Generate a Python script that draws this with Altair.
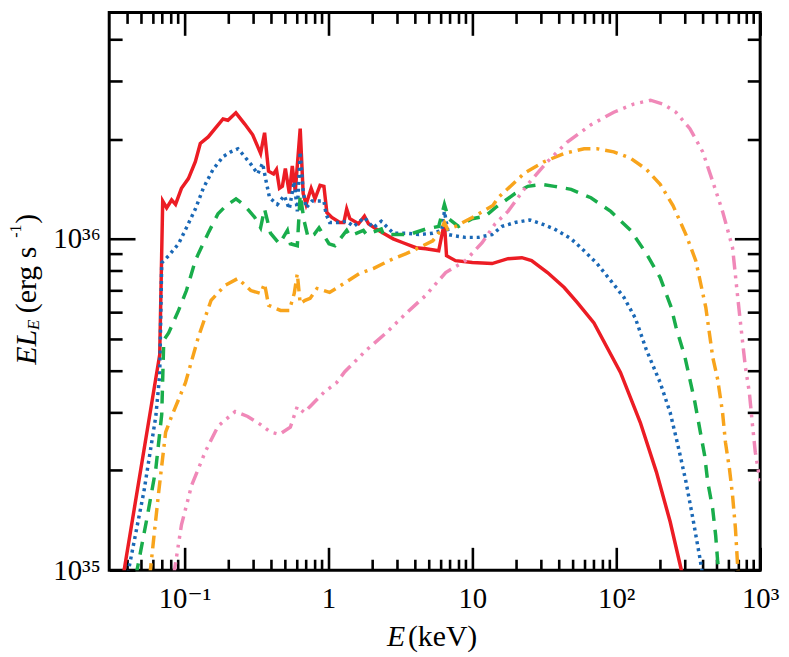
import altair as alt
import pandas as pd

# ---------------- data (E in keV, L in units of 1e36 erg/s) ----------------
red_E = [0.0375, 0.0673, 0.0706, 0.0752, 0.0814, 0.0867, 0.0953, 0.1065, 0.119, 0.1288,
         0.1462, 0.163, 0.1854, 0.2005, 0.2276, 0.2624, 0.2978, 0.338, 0.3603, 0.3838,
         0.4159, 0.4357, 0.4571, 0.479, 0.5023, 0.5354, 0.5613, 0.5888, 0.637, 0.668,
         0.700, 0.759, 0.807, 0.875, 0.931, 0.976, 1.057, 1.20, 1.28, 1.34,
         1.41, 1.62, 1.78, 1.90, 2.15, 2.41, 2.82, 3.30, 4.06, 4.75,
         5.84, 6.40, 6.62, 7.64, 10.0, 13.7, 17.7, 22.1, 25.8, 33.3,
         43.5, 53.5, 70.0, 107, 147, 190, 237, 282, 291]
red_L36 = [0.096, 0.447, 1.30, 1.24, 1.31, 1.27, 1.42, 1.52, 1.71, 1.94,
           2.03, 2.15, 2.30, 2.28, 2.40, 2.22, 2.06, 1.81, 2.09, 1.60,
           1.57, 1.62, 1.42, 1.44, 1.63, 1.37, 1.66, 1.39, 2.15, 1.37,
           1.27, 1.42, 1.32, 1.45, 1.44, 1.20, 1.16, 1.12, 1.12, 1.23,
           1.15, 1.11, 1.17, 1.11, 1.07, 1.04, 1.00, 0.973, 0.940, 0.933,
           0.920, 1.12, 0.889, 0.859, 0.848, 0.842, 0.871, 0.877, 0.859, 0.791,
           0.713, 0.643, 0.557, 0.395, 0.279, 0.198, 0.140, 0.101, 0.096]

blue_E = [0.0405, 0.0523, 0.0632, 0.0673, 0.0695, 0.0776, 0.0910, 0.1032, 0.119, 0.135,
          0.158, 0.1854, 0.210, 0.235, 0.262, 0.289, 0.323, 0.349, 0.366, 0.390,
          0.442, 0.494, 0.535, 0.579, 0.608, 0.637, 0.668, 0.700, 0.770, 0.861,
          0.931, 0.962, 1.02, 1.18, 1.34, 1.50, 1.78, 2.05, 2.33, 2.82,
          3.47, 4.26, 5.31, 6.12, 6.40, 6.84, 7.64, 8.95, 11.0, 13.7,
          16.1, 19.8, 25.1, 30.3, 37.2, 48.6, 59.8, 73.5, 91.6, 113,
          136, 162, 202, 237, 269, 305, 341, 381, 399]
blue_L36 = [0.098, 0.173, 0.291, 0.389, 0.847, 0.889, 0.966, 1.08, 1.23, 1.42,
            1.62, 1.77, 1.83, 1.87, 1.77, 1.68, 1.57, 1.69, 1.52, 1.33,
            1.27, 1.35, 1.23, 1.49, 1.21, 1.83, 1.39, 1.24, 1.30, 1.30,
            1.30, 1.19, 1.12, 1.12, 1.13, 1.09, 1.16, 1.08, 1.13, 1.04,
            1.04, 1.03, 1.04, 1.06, 1.21, 1.03, 1.02, 1.01, 1.01, 1.03,
            1.09, 1.12, 1.14, 1.11, 1.07, 1.00, 0.920, 0.842, 0.748, 0.666,
            0.575, 0.462, 0.368, 0.299, 0.237, 0.185, 0.143, 0.109, 0.096]

green_E = [0.0460, 0.0548, 0.0632, 0.0695, 0.0718, 0.0776, 0.0910, 0.1032, 0.119, 0.125,
           0.146, 0.171, 0.195, 0.228, 0.262, 0.308, 0.338, 0.360, 0.396, 0.457,
           0.519, 0.544, 0.608, 0.637, 0.679, 0.723, 0.795, 0.861, 1.01, 1.11,
           1.34, 1.41, 1.75, 1.84, 2.33, 2.41, 2.96, 3.63, 4.75, 5.84,
           6.40, 6.84, 8.01, 10.0, 12.3, 14.4, 19.8, 24.3, 30.3, 37.2,
           48.6, 66.7, 91.6, 126, 162, 202, 241, 260, 300, 325,
           352, 381, 412, 432, 468, 491, 507, 523]
green_L36 = [0.096, 0.143, 0.202, 0.295, 0.495, 0.520, 0.608, 0.698, 0.859, 0.902,
             1.04, 1.19, 1.26, 1.32, 1.26, 1.16, 1.08, 1.23, 1.04, 0.966,
             1.06, 0.966, 0.953, 1.36, 1.13, 1.01, 1.03, 1.08, 0.966, 0.953,
             1.06, 1.02, 1.06, 1.03, 1.07, 1.03, 1.03, 1.03, 1.07, 1.09,
             1.27, 1.15, 1.09, 1.15, 1.17, 1.24, 1.37, 1.44, 1.46, 1.44,
             1.41, 1.33, 1.21, 1.06, 0.902, 0.764, 0.621, 0.542, 0.440, 0.376,
             0.321, 0.266, 0.221, 0.185, 0.153, 0.127, 0.106, 0.096]

orange_E = [0.0574, 0.0612, 0.0663, 0.0740, 0.0814, 0.1016, 0.125, 0.153, 0.191, 0.235,
            0.289, 0.338, 0.360, 0.384, 0.465, 0.535, 0.579, 0.608, 0.637, 0.689,
            0.746, 0.834, 1.02, 1.28, 1.64, 2.05, 2.41, 2.82, 3.47, 4.26,
            5.31, 6.03, 6.40, 6.73, 7.64, 10.0, 13.9, 15.1, 23.1, 31.7,
            43.5, 59.8, 73.5, 96.1, 126, 162, 202, 248, 305, 357,
            419, 468, 507, 548, 574, 612, 643, 673, 695, 706]
orange_L36 = [0.096, 0.125, 0.173, 0.261, 0.291, 0.368, 0.506, 0.652, 0.723, 0.759,
              0.698, 0.684, 0.733, 0.630, 0.608, 0.608, 0.684, 0.785, 0.638, 0.652,
              0.661, 0.708, 0.689, 0.733, 0.785, 0.813, 0.842, 0.871, 0.902, 0.940,
              0.986, 1.06, 1.12, 1.07, 1.09, 1.16, 1.26, 1.33, 1.58, 1.71,
              1.81, 1.87, 1.87, 1.83, 1.75, 1.62, 1.46, 1.26, 1.03, 0.859,
              0.621, 0.440, 0.376, 0.299, 0.243, 0.202, 0.168, 0.134, 0.106, 0.096]

pink_E = [0.0840, 0.0953, 0.112, 0.139, 0.171, 0.225, 0.275, 0.338, 0.396, 0.457,
          0.544, 0.608, 0.679, 0.746, 0.931, 1.14, 1.30, 1.84, 2.52, 3.47,
          4.75, 6.53, 8.95, 11.7, 14.4, 17.7, 24.3, 33.3, 45.7, 66.8,
          96.1, 132, 173, 212, 260, 325, 399, 468, 548, 643,
          690, 730, 789, 841, 881, 925, 1000]
pink_L36 = [0.096, 0.137, 0.180, 0.227, 0.272, 0.301, 0.291, 0.275, 0.261, 0.257,
            0.270, 0.312, 0.299, 0.312, 0.344, 0.368, 0.397, 0.462, 0.520, 0.596,
            0.675, 0.791, 0.859, 0.973, 1.11, 1.21, 1.46, 1.71, 1.96, 2.21,
            2.41, 2.55, 2.62, 2.55, 2.41, 2.15, 1.83, 1.49, 1.21, 0.940,
            0.700, 0.557, 0.411, 0.344, 0.279, 0.227, 0.185]

# axis tick values
x_major = [0.1, 1, 10, 100, 1000]
x_minor = [0.04, 0.05, 0.06, 0.07, 0.08, 0.09,
           0.2, 0.3, 0.4, 0.5, 0.6, 0.7, 0.8, 0.9,
           2, 3, 4, 5, 6, 7, 8, 9,
           20, 30, 40, 50, 60, 70, 80, 90,
           200, 300, 400, 500, 600, 700, 800, 900]
y_major = [1e35, 1e36]
y_minor = [2e35, 3e35, 4e35, 5e35, 6e35, 7e35, 8e35, 9e35, 2e36, 3e36, 4e36]

# ---------------- styles ----------------
SERIES = [
    ("red", red_E, red_L36, "#ec1c24", None),
    ("blue", blue_E, blue_L36, "#1a68b6", [3, 4]),
    ("green", green_E, green_L36, "#19ad4b", [13, 9]),
    ("orange", orange_E, orange_L36, "#f8a41c", [13, 6, 3, 6]),
    ("pink", pink_E, pink_L36, "#f088b8", [14, 6, 3, 6, 3, 6, 3, 6]),
]

FONT = "Liberation Serif, Times New Roman, DejaVu Serif, serif"
W, H = 656, 562
x_scale = alt.Scale(type="log", domain=[0.03, 1000], nice=False)
y_scale = alt.Scale(type="log", domain=[1e35, 4.82e36], nice=False)

frames = []
layers = []
for name, E, L36, color, dash in SERIES:
    d = pd.DataFrame({"E": E, "L36": L36})
    d["L"] = d["L36"] * 1e36
    d["series"] = name
    frames.append(d)
    mk = dict(color=color, strokeWidth=3.5, clip=True)
    if dash:
        mk["strokeDash"] = dash
    layers.append(
        alt.Chart(d).mark_line(**mk).encode(
            x=alt.X("E:Q", scale=x_scale, axis=None),
            y=alt.Y("L:Q", scale=y_scale, axis=None),
        )
    )
df_all = pd.concat(frames, ignore_index=True)

x_lab = ("datum.value < 0.5 ? '10⁻¹' : datum.value < 5 ? '1' : "
         "datum.value < 50 ? '10' : datum.value < 500 ? '10²' : '10³'")
y_lab = "datum.value < 5e35 ? '10³⁵' : '10³⁶'"


def make_axis(orient, values, size, expr=None, pad=0):
    kw = dict(orient=orient, values=values, tickSize=size, offset=-size,
              domain=False, grid=False, title=None, ticks=True,
              tickColor="black", tickWidth=2.6)
    if expr:
        kw.update(labels=True, labelExpr=expr, labelPadding=pad, labelFlush=False,
                  labelOverlap=False, labelFont=FONT, labelFontSize=29,
                  labelColor="black")
    else:
        kw.update(labels=False)
    return alt.Axis(**kw)


axis_specs = [
    (make_axis("bottom", x_major, 23, x_lab, 15), make_axis("left", y_major, 26, y_lab, 9)),
    (make_axis("bottom", x_minor, 11), make_axis("left", y_minor, 13)),
    (make_axis("top", x_major, 23), make_axis("right", y_major, 26)),
    (make_axis("top", x_minor, 11), make_axis("right", y_minor, 13)),
]
for xa, ya in axis_specs:
    layers.append(
        alt.Chart(df_all).mark_point(opacity=0).encode(
            x=alt.X("E:Q", scale=x_scale, axis=xa),
            y=alt.Y("L:Q", scale=y_scale, axis=ya),
        )
    )

# ---------------- axis titles (rich text) ----------------
one = alt.Data(values=[{}])


def txt(s, x, y, size=30, italic=False, angle=None):
    kw = dict(text=s, font=FONT, fontSize=size, color="black",
              align="left", baseline="alphabetic")
    if italic:
        kw["fontStyle"] = "italic"
    if angle is not None:
        kw["angle"] = angle
    return alt.Chart(one).mark_text(**kw).encode(x=alt.value(x), y=alt.value(y))


layers += [
    # y title: EL_E  (erg s^-1)
    txt("EL", -74, 355, 30, True, 270),
    txt("E", -71, 320, 17, True, 270),
    txt("(erg s", -74, 303, 30, False, 270),
    txt("-1", -89, 227, 16, False, 270),
    txt(")", -74, 213, 30, False, 270),
    # x title: E (keV)
    txt("E", 280, 638, 30, True),
    txt("(keV)", 301, 638, 30, False),
]

chart = (
    alt.layer(*layers)
    .resolve_axis(x="independent", y="independent")
    .properties(
        width=W,
        height=H,
        autosize=alt.AutoSizeParams(type="none"),
        padding={"left": 102, "top": 2, "right": 21, "bottom": 86},
        background="white",
    )
    .configure_view(stroke="black", strokeWidth=3)
)

chart.save("out.html", embed_options={"renderer": "svg", "actions": False})
